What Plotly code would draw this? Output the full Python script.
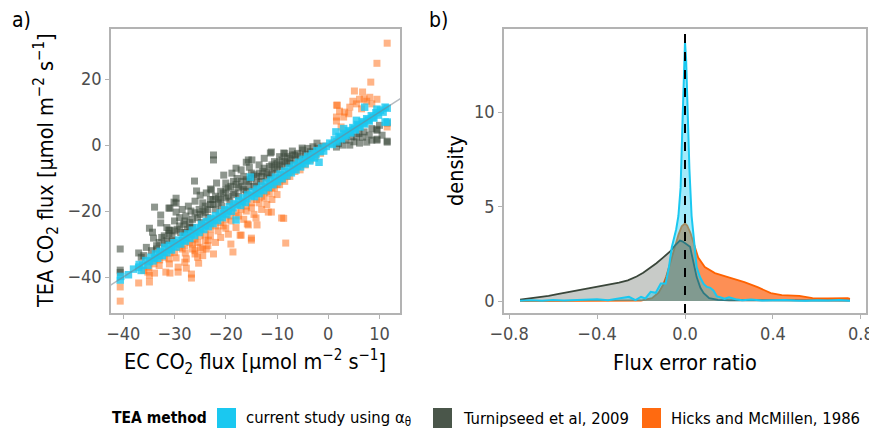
import plotly.graph_objects as go

# ---------------- data: panel a (scatter, EC vs TEA CO2 flux) ----------------
turnipseed_pts = [
    (-40.6, -31.5), (-40.6, -37.9), (-40.6, -38.6), (-37.0, -32.7), (-36.5, -34.0), (-36.0, -33.5),
    (-35.5, -31.0), (-34.9, -25.2), (-34.5, -32.0), (-34.3, -26.4), (-34.1, -28.2), (-33.9, -18.8),
    (-33.5, -30.5), (-33.5, -31.5), (-33.0, -29.5), (-32.7, -21.2), (-32.7, -23.6), (-32.5, -28.0),
    (-32.0, -30.0), (-32.0, -27.5), (-31.5, -25.0), (-31.5, -29.0), (-31.1, -19.1), (-31.1, -25.8),
    (-31.1, -26.8), (-30.9, -19.1), (-30.9, -25.8), (-30.5, -27.5), (-30.5, -29.0), (-30.1, -17.3),
    (-30.0, -23.0), (-30.0, -26.0), (-29.7, -16.1), (-29.7, -17.6), (-29.7, -20.3), (-29.5, -25.5),
    (-29.0, -22.0), (-29.0, -24.5), (-28.8, -26.5), (-28.5, -19.5), (-28.2, -24.0), (-28.0, -23.0),
    (-28.0, -26.5), (-27.8, -21.5), (-27.5, -25.5), (-27.3, -18.5), (-27.0, -23.5), (-27.0, -25.0),
    (-26.8, -20.0), (-26.5, -25.0), (-26.5, -22.5), (-26.1, -10.9), (-26.0, -17.0), (-26.0, -20.5),
    (-25.7, -13.9), (-25.5, -22.0), (-25.2, -19.5), (-25.0, -15.2), (-25.0, -21.0), (-24.8, -23.5),
    (-24.5, -17.5), (-24.5, -20.0), (-24.0, -20.5), (-24.0, -18.5), (-23.8, -14.5), (-23.5, -22.0),
    (-23.5, -19.5), (-23.0, -13.3), (-23.0, -18.0), (-23.0, -16.5), (-22.8, -13.6), (-22.5, -16.5),
    (-22.5, -18.0), (-22.4, -3.0), (-22.4, -4.5), (-22.0, -19.5), (-22.0, -15.5), (-21.8, -11.5),
    (-21.5, -17.5), (-21.4, -16.1), (-21.0, -14.0), (-21.0, -16.5), (-20.8, -18.5), (-20.5, -14.5),
    (-20.4, -9.1), (-20.0, -11.5), (-20.0, -16.0), (-20.0, -13.5), (-19.5, -13.0), (-19.5, -15.5),
    (-19.2, -17.0), (-19.0, -12.5), (-18.8, -8.5), (-18.5, -11.0), (-18.5, -15.0), (-18.2, -14.5),
    (-18.0, -7.0), (-18.0, -12.0), (-17.8, -10.1), (-17.5, -15.5), (-17.5, -13.0), (-17.0, -7.5),
    (-17.0, -11.0), (-16.8, -12.5), (-16.5, -9.5), (-16.5, -13.5), (-16.0, -5.2), (-16.0, -14.0),
    (-16.0, -10.5), (-15.6, -4.5), (-15.5, -11.0), (-15.5, -12.5), (-15.4, -6.7), (-15.0, -8.5),
    (-15.0, -10.0), (-14.9, -4.5), (-14.5, -12.5), (-14.5, -9.0), (-14.0, -9.5), (-14.0, -11.5),
    (-13.5, -6.0), (-13.5, -8.5), (-13.2, -11.0), (-13.0, -9.5), (-12.8, -8.0), (-12.5, -4.0),
    (-12.5, -7.0), (-12.0, -10.0), (-12.0, -8.5), (-11.5, -6.5), (-11.5, -9.0), (-11.3, -2.4),
    (-11.1, -2.1), (-11.0, -8.5), (-11.0, -6.0), (-10.5, -5.0), (-10.5, -7.0), (-10.0, -7.5),
    (-10.0, -5.5), (-9.5, -3.5), (-9.5, -6.0), (-9.0, -6.5), (-9.0, -4.5), (-8.7, -2.4),
    (-8.5, -2.5), (-8.5, -5.0), (-8.0, -5.5), (-8.0, -3.5), (-7.5, -4.0), (-7.5, -5.5),
    (-7.0, -1.8), (-7.0, -3.0), (-6.5, -4.5), (-6.5, -3.0), (-6.0, -2.5), (-5.5, -3.5),
    (-5.1, -0.9), (-5.0, -1.5), (-4.5, -2.8), (-4.0, -1.0), (-3.5, -2.0), (-3.0, -0.5),
    (-2.2, 0.6), (-2.0, -1.0), (-1.0, -0.3),
    (1.6, -0.6), (2.0, 0.5), (2.8, 0.0), (3.5, 1.5), (4.2, 0.0), (4.5, 2.5), (5.0, 1.0),
    (5.5, 2.5), (6.0, 3.5), (6.1, 0.6), (6.7, 2.4), (7.0, 4.0), (7.5, 0.9), (8.0, 3.0),
    (8.5, 1.5), (8.5, 5.0), (9.5, 1.5), (9.5, 4.5), (9.5, 4.8), (9.5, 1.8), (10.0, 6.0),
    (10.5, 3.0), (11.5, 0.9), (11.5, 6.7), (11.5, 1.2),
]

hicks_pts = [
    (-40.6, -43.0), (-40.6, -47.3), (-37.0, -41.8), (-36.0, -38.0), (-35.2, -38.5), (-35.0, -37.0),
    (-34.9, -41.5), (-34.9, -39.5), (-34.0, -36.0), (-33.9, -38.8), (-33.0, -36.5), (-32.9, -34.8),
    (-32.0, -34.0), (-31.7, -38.5), (-31.1, -34.5), (-31.0, -36.0), (-30.9, -38.8), (-30.9, -32.7),
    (-30.0, -32.5), (-29.7, -34.2), (-29.3, -38.5), (-29.3, -37.0), (-29.0, -31.0), (-28.5, -31.5),
    (-28.0, -35.5), (-28.0, -30.5), (-27.9, -32.7), (-27.7, -37.3), (-27.7, -34.5), (-27.0, -29.5),
    (-26.7, -39.1), (-26.7, -40.3), (-26.5, -30.0), (-26.5, -31.5), (-26.0, -32.0), (-26.0, -33.0),
    (-26.0, -28.5), (-25.5, -29.5), (-25.5, -34.0), (-25.3, -35.8), (-25.0, -31.0), (-25.0, -27.5),
    (-24.5, -33.5), (-24.5, -31.5), (-24.0, -29.0), (-24.0, -27.0), (-23.8, -31.5), (-23.5, -30.5),
    (-23.4, -28.8), (-23.0, -27.5), (-23.0, -25.5), (-22.4, -33.0), (-22.0, -29.5), (-22.0, -24.5),
    (-21.5, -26.0), (-21.0, -28.0), (-21.0, -23.5), (-20.5, -24.5), (-20.0, -25.2), (-20.0, -22.5),
    (-19.5, -27.0), (-19.0, -30.0), (-19.0, -23.0), (-19.0, -21.5), (-18.6, -32.4), (-18.0, -25.0),
    (-18.0, -20.5), (-17.5, -21.5), (-17.2, -27.3), (-17.0, -27.3), (-17.0, -19.5), (-16.5, -22.5),
    (-16.0, -20.0), (-16.0, -18.5), (-15.8, -23.9), (-15.6, -24.2), (-15.0, -28.2), (-15.0, -28.8),
    (-15.0, -19.0), (-15.0, -17.5), (-14.5, -21.0), (-14.1, -22.1), (-14.0, -16.5), (-13.9, -24.2),
    (-13.5, -17.5), (-13.0, -19.5), (-13.0, -15.5), (-12.5, -16.0), (-12.0, -18.0), (-12.0, -14.0),
    (-11.7, -20.3), (-11.5, -14.5), (-11.1, -20.3), (-11.0, -16.5), (-11.0, -13.0), (-10.5, -13.0),
    (-10.0, -15.0), (-10.0, -12.0), (-9.5, -12.0), (-9.1, -22.1), (-9.0, -10.5), (-8.7, -22.2),
    (-8.5, -11.0), (-8.3, -29.7), (-8.0, -9.5), (-7.5, -9.5), (-6.5, -8.0), (-5.5, -7.5),
    (-4.5, -6.0), (-3.5, -4.5), (-2.5, -3.5), (-1.5, -2.5),
    (1.6, 12.1), (1.6, 8.5), (1.6, 7.3), (1.8, 12.1), (2.2, 10.3), (2.5, 5.5), (3.0, 8.5),
    (3.2, 10.0), (4.0, 9.5), (4.2, 11.5), (4.8, 13.3), (5.1, 16.4), (5.5, 12.5), (6.1, 13.9),
    (6.5, 11.0), (6.7, 16.1), (7.0, 14.0), (7.5, 13.3), (8.1, 14.5), (8.3, 19.1), (8.5, 12.5),
    (9.5, 13.9), (9.5, 24.8), (11.5, 30.9), (11.5, 5.5),
]

current_pts = [
    (-40.6, -40.9), (-40.5, -39.8), (-39.0, -39.3), (-38.0, -37.6), (-37.0, -37.0), (-36.9, -36.2),
    (-36.5, -38.0), (-36.2, -36.4), (-35.6, -35.0), (-35.2, -36.4), (-34.9, -35.3), (-34.6, -34.0),
    (-34.2, -35.1), (-33.9, -34.2), (-33.7, -33.0), (-33.3, -34.3), (-33.0, -33.4), (-32.8, -32.2),
    (-32.4, -33.5), (-32.1, -32.5), (-31.9, -31.0), (-31.5, -32.6), (-31.2, -31.5), (-31.0, -30.4),
    (-30.6, -31.8), (-30.3, -30.6), (-30.1, -29.6), (-29.7, -30.9), (-29.4, -29.8), (-29.2, -28.8),
    (-28.8, -30.0), (-28.5, -28.9), (-28.3, -27.6), (-27.9, -29.1), (-27.6, -28.0), (-27.4, -26.9),
    (-27.0, -28.3), (-26.7, -27.1), (-26.5, -25.8), (-26.1, -27.4), (-25.8, -26.2), (-25.6, -25.0),
    (-25.2, -26.5), (-24.9, -25.3), (-24.7, -24.0), (-24.3, -25.6), (-24.0, -24.4), (-23.8, -23.2),
    (-23.4, -24.7), (-23.1, -23.5), (-22.9, -22.3), (-22.5, -23.8), (-22.2, -22.6), (-22.0, -21.4),
    (-21.6, -22.9), (-21.3, -21.7), (-21.1, -20.6), (-20.7, -22.0), (-20.4, -20.8), (-20.2, -19.6),
    (-19.8, -21.1), (-19.5, -19.9), (-19.3, -18.7), (-18.9, -20.1), (-18.6, -19.0), (-18.4, -17.8),
    (-18.0, -22.7), (-17.8, -18.1), (-17.5, -16.9), (-17.1, -18.3), (-16.8, -17.2), (-16.6, -16.0),
    (-16.2, -17.4), (-15.9, -16.3), (-15.7, -15.1), (-15.2, -9.7), (-15.0, -15.4), (-14.8, -14.2),
    (-14.4, -15.6), (-14.1, -14.5), (-13.9, -13.3), (-13.5, -14.7), (-13.2, -13.6), (-13.0, -12.4),
    (-12.6, -13.8), (-12.3, -12.7), (-12.1, -11.5), (-11.7, -12.9), (-11.4, -11.8), (-11.2, -10.6),
    (-10.8, -12.0), (-10.5, -10.9), (-10.3, -9.7), (-9.9, -11.1), (-9.6, -10.0), (-9.4, -8.8),
    (-9.0, -10.2), (-8.7, -9.1), (-8.5, -7.9), (-8.1, -9.3), (-7.8, -8.2), (-7.6, -7.0),
    (-7.2, -8.4), (-6.9, -7.3), (-6.7, -6.1), (-6.3, -7.5), (-6.0, -6.4), (-5.8, -5.2),
    (-5.4, -6.6), (-5.1, -5.5), (-4.9, -4.3), (-4.5, -5.7), (-4.2, -4.6), (-4.0, -3.4),
    (-3.6, -4.8), (-3.3, -3.7), (-3.1, -2.6), (-2.7, -3.9), (-2.4, -2.8), (-2.2, -1.7),
    (-1.8, -5.2), (-1.6, -2.0), (-1.3, -0.9), (-0.9, -1.8), (-0.4, -0.4),
    (0.3, 0.6), (0.8, 0.2), (1.2, 1.6), (1.5, 4.0), (1.7, 1.0), (2.1, 2.6), (2.4, 2.2),
    (2.6, 1.9), (3.0, 3.5), (3.0, 5.0), (3.3, 3.1), (3.5, 2.8), (3.9, 4.4), (4.2, 4.0),
    (4.4, 3.7), (4.8, 5.3), (5.1, 4.9), (5.3, 4.6), (5.5, 7.5), (5.7, 6.2), (6.0, 5.8),
    (6.2, 5.5), (6.6, 7.1), (6.9, 6.7), (7.1, 6.4), (7.1, 11.5), (7.5, 8.0), (7.8, 7.6),
    (8.0, 7.3), (8.4, 8.9), (8.7, 8.5), (8.9, 8.2), (9.3, 9.8), (9.5, 10.9), (9.8, 9.1),
    (10.2, 10.6), (10.7, 10.0), (11.1, 11.5), (11.1, 7.0), (11.5, 11.2), (11.5, 7.0),
]

one_to_one = [-45, 16]

# ---------------- data: panel b (density of flux error ratio) ----------------
turn_x = [-0.75, -0.70, -0.67, -0.62, -0.58, -0.52, -0.445, -0.40, -0.37, -0.30, -0.26, -0.22,
          -0.19, -0.16, -0.13, -0.10, -0.065, -0.045, -0.03, -0.023, -0.01, 0.0, 0.01, 0.023,
          0.03, 0.04, 0.053, 0.07, 0.085, 0.11, 0.15, 0.2, 0.3, 0.4, 0.5, 0.6, 0.75]
turn_y = [0.08, 0.15, 0.2, 0.28, 0.37, 0.5, 0.69, 0.76, 0.82, 0.98, 1.1, 1.3,
          1.5, 1.75, 2.0, 2.3, 2.65, 2.95, 3.15, 3.2, 3.15, 3.05, 3.0, 2.87,
          2.5, 2.0, 1.27, 0.7, 0.42, 0.15, 0.06, 0.04, 0.03, 0.02, 0.02, 0.02, 0.02]

hicks_x = [-0.75, -0.5, -0.3, -0.2, -0.15, -0.12, -0.1, -0.086, -0.07, -0.05, -0.03, -0.015,
           0.0, 0.01, 0.025, 0.045, 0.06, 0.09, 0.136, 0.195, 0.27, 0.33, 0.39, 0.44,
           0.52, 0.58, 0.65, 0.74, 0.75]
hicks_y = [0.0, 0.0, 0.01, 0.03, 0.15, 0.45, 0.85, 1.27, 1.9, 2.7, 3.5, 3.95,
           4.1, 4.0, 3.6, 2.86, 2.3, 1.8, 1.48, 1.27, 1.0, 0.74, 0.42, 0.32,
           0.28, 0.16, 0.14, 0.16, 0.12]

curr_x = [-0.75, -0.70, -0.65, -0.60, -0.55, -0.50, -0.45, -0.40, -0.35, -0.30, -0.255, -0.225,
          -0.20, -0.18, -0.156, -0.133, -0.11, -0.088, -0.073, -0.06, -0.05, -0.04, -0.03, -0.02,
          -0.01, -0.005, 0.0, 0.005, 0.012, 0.02, 0.03, 0.037, 0.045, 0.053, 0.068, 0.085,
          0.1, 0.115, 0.13, 0.145, 0.16, 0.18, 0.2, 0.23, 0.26, 0.3, 0.35, 0.4,
          0.45, 0.5, 0.55, 0.6, 0.65, 0.7, 0.75]
curr_y = [0.02, 0.05, 0.02, 0.06, 0.03, 0.05, 0.04, 0.1, 0.05, 0.15, 0.23, 0.05,
          0.23, 0.14, 0.49, 0.44, 0.93, 0.93, 1.8, 2.85, 3.3, 3.8, 4.5, 6.0,
          10.0, 12.5, 13.7, 12.8, 10.0, 7.0, 4.5, 3.6, 2.4, 1.8, 1.27, 0.9,
          0.75, 0.7, 0.55, 0.25, 0.2, 0.12, 0.2, 0.1, 0.05, 0.08, 0.03, 0.04,
          0.06, 0.03, 0.02, 0.05, 0.03, 0.06, 0.02]

legend_title = "TEA method"
series_names = ["current study using α<sub>θ</sub>", "Turnipseed et al, 2009", "Hicks and McMillen, 1986"]
series_colors = ["#1ac8f0", "#4a564a", "#ff6a10"]

# ---------------- figure ----------------
FONT = "Liberation Sans Narrow, DejaVu Sans Condensed, Roboto, sans-serif"
OFF = 8                      # page body margin of the browser
W, H = 877 - OFF, 433 - OFF

def px(x):   # reference-pixel x -> paper fraction
    return (x - OFF) / W

def py(y):   # reference-pixel y -> paper fraction
    return 1 - (y - OFF) / H

fig = go.Figure()

def unzip(pts):
    return [p[0] for p in pts], [p[1] for p in pts]

tx, ty = unzip(turnipseed_pts)
hx, hy = unzip(hicks_pts)
cx, cy = unzip(current_pts)

fig.add_trace(go.Scatter(x=tx, y=ty, mode="markers", showlegend=False, xaxis="x", yaxis="y",
                         marker=dict(symbol="square", size=7, color="#3d4a3d", opacity=0.58,
                                     line=dict(width=0))))
fig.add_trace(go.Scatter(x=hx, y=hy, mode="markers", showlegend=False, xaxis="x", yaxis="y",
                         marker=dict(symbol="square", size=7, color="#ff6a10", opacity=0.5,
                                     line=dict(width=0))))
fig.add_trace(go.Scatter(x=cx, y=cy, mode="markers", showlegend=False, xaxis="x", yaxis="y",
                         marker=dict(symbol="square", size=7.5, color="#1ac8f0", opacity=0.8,
                                     line=dict(width=0))))
fig.add_trace(go.Scatter(x=one_to_one, y=one_to_one, mode="lines", showlegend=False,
                         xaxis="x", yaxis="y", line=dict(color="rgba(120,130,140,0.55)", width=1.5)))

# densities
fig.add_trace(go.Scatter(x=hicks_x, y=hicks_y, mode="lines", fill="tozeroy", showlegend=False,
                         xaxis="x2", yaxis="y2", fillcolor="rgba(252,100,20,0.72)",
                         line=dict(color="#ff6200", width=1.8)))
fig.add_trace(go.Scatter(x=turn_x, y=turn_y, mode="lines", fill="tozeroy", showlegend=False,
                         xaxis="x2", yaxis="y2", fillcolor="rgba(74,84,74,0.3)",
                         line=dict(color="#3a463a", width=1.8)))
fig.add_trace(go.Scatter(x=curr_x, y=curr_y, mode="lines", fill="tozeroy", showlegend=False,
                         xaxis="x2", yaxis="y2", fillcolor="rgba(26,200,240,0.4)",
                         line=dict(color="#1ac8f0", width=2)))

axis_common = dict(showgrid=False, zeroline=False, showline=True, mirror=True, automargin=False,
                   linecolor="#b3b3b3", linewidth=1.5, ticks="outside", tickcolor="#b3b3b3",
                   ticklen=4, tickwidth=1.2, tickfont=dict(size=18, color="#4d4d4d", family=FONT))

TITLE_FONT = dict(size=21.5, family=FONT, color="black")

# legend built from shapes + text, placed like the reference
legend_swatch_x = [217, 433, 642]
legend_text_x = [244, 461, 669]
LEG_Y = 418
shapes = [dict(type="line", xref="x2", yref="y2 domain", x0=0, x1=0, y0=0, y1=1,
               line=dict(color="black", width=2, dash="dash"))]
annotations = [
    dict(text="a)", x=px(10), y=py(20), xref="paper", yref="paper", showarrow=False,
         xanchor="left", yanchor="middle", font=dict(size=21, family=FONT)),
    dict(text="b)", x=px(427), y=py(20), xref="paper", yref="paper", showarrow=False,
         xanchor="left", yanchor="middle", font=dict(size=21, family=FONT)),
    dict(text="EC CO<sub>2</sub> flux [μmol m<sup>−2</sup> s<sup>−1</sup>]", x=px(255), y=py(362),
         xref="paper", yref="paper", showarrow=False, xanchor="center", yanchor="middle",
         font=TITLE_FONT),
    dict(text="TEA CO<sub>2</sub> flux [μmol m<sup>−2</sup> s<sup>−1</sup>]", x=px(46), y=py(171),
         xref="paper", yref="paper", showarrow=False, xanchor="center", yanchor="middle",
         textangle=-90, font=TITLE_FONT),
    dict(text="Flux error ratio", x=px(685), y=py(362),
         xref="paper", yref="paper", showarrow=False, xanchor="center", yanchor="middle",
         font=TITLE_FONT),
    dict(text="density", x=px(455), y=py(171),
         xref="paper", yref="paper", showarrow=False, xanchor="center", yanchor="middle",
         textangle=-90, font=TITLE_FONT),
    dict(text="<b>" + legend_title + "</b>", x=px(110), y=py(LEG_Y), xref="paper", yref="paper",
         showarrow=False, xanchor="left", yanchor="middle", font=dict(size=15.5, family=FONT)),
]
for sx, tx_, name, col in zip(legend_swatch_x, legend_text_x, series_names, series_colors):
    shapes.append(dict(type="rect", xref="paper", yref="paper", x0=px(sx), x1=px(sx + 19),
                       y0=py(LEG_Y + 10), y1=py(LEG_Y - 10), fillcolor=col, line=dict(width=0)))
    annotations.append(dict(text=name, x=px(tx_), y=py(LEG_Y), xref="paper", yref="paper",
                            showarrow=False, xanchor="left", yanchor="middle",
                            font=dict(size=16.5, family=FONT)))

fig.update_layout(
    width=W, height=H,
    margin=dict(l=0, r=0, t=0, b=0, autoexpand=False),
    paper_bgcolor="white", plot_bgcolor="white",
    font=dict(family=FONT, color="black"),
    showlegend=False,
    xaxis=dict(domain=[px(111), px(400)], range=[-42.4, 14.0], tickvals=[-40, -30, -20, -10, 0, 10],
               ticktext=["−40", "−30", "−20", "−10", "0", "10"], anchor="y", **axis_common),
    yaxis=dict(domain=[py(313), py(29)], range=[-50.9, 35.2], tickvals=[-40, -20, 0, 20],
               ticktext=["−40", "−20", "0", "20"], anchor="x", **axis_common),
    xaxis2=dict(domain=[px(504), px(866)], range=[-0.823, 0.823], tickvals=[-0.8, -0.4, 0, 0.4, 0.8],
                ticktext=["−0.8", "−0.4", "0.0", "0.4", "0.8"], anchor="y2", **axis_common),
    yaxis2=dict(domain=[py(313), py(29)], range=[-0.63, 14.39], tickvals=[0, 5, 10],
                anchor="x2", **axis_common),
    shapes=shapes,
    annotations=annotations,
)

fig.write_html("out.html")
